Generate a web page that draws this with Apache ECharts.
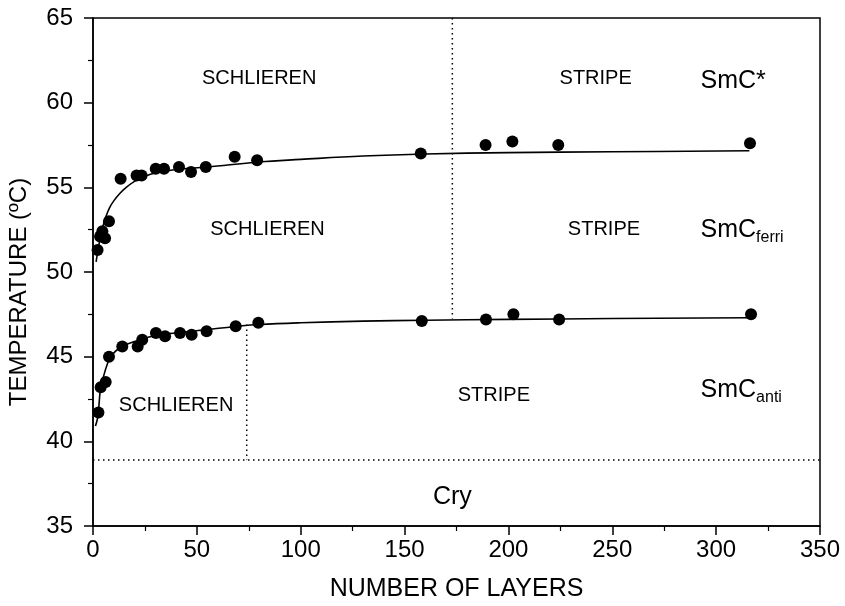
<!DOCTYPE html>
<html lang="en">
<head>
    <meta charset="UTF-8">
    <title>Temperature vs number of layers</title>
    <script src="https://cdn.jsdelivr.net/npm/echarts@6/dist/echarts.min.js"></script>
    <style>
        html, body { margin: 0; padding: 0; background: #fff; }
        #chart { width: 845px; height: 606px; }
    </style>
</head>
<body>
    <div id="chart"></div>
    <script>
        // upper transition (SmC* -> SmCferri), measured points
        var layersUpper = [2.2, 3.4, 4.5, 5.8, 7.7, 13.3, 21.0, 23.4, 30.2, 34.2, 41.4, 47.2, 54.3, 68.2, 79.0, 157.8, 189.0, 201.9, 224.0, 316.3];
        var tempUpper = [51.3, 52.1, 52.4, 52.0, 53.0, 55.5, 55.7, 55.7, 56.1, 56.1, 56.2, 55.9, 56.2, 56.8, 56.6, 57.0, 57.5, 57.7, 57.5, 57.6];

        // lower transition (SmCferri -> SmCanti), measured points
        var layersLower = [2.6, 3.7, 6.1, 7.7, 14.1, 21.5, 23.7, 30.3, 34.7, 41.9, 47.5, 54.7, 68.7, 79.6, 158.3, 189.2, 202.4, 224.4, 316.8];
        var tempLower = [41.7, 43.2, 43.5, 45.0, 45.6, 45.6, 46.0, 46.4, 46.2, 46.4, 46.3, 46.5, 46.8, 47.0, 47.1, 47.2, 47.5, 47.2, 47.5];

        // fitted curves
        var fitUpperX = [1.5, 2, 3, 4, 5, 6, 8, 10, 13, 16, 20, 25, 30, 40, 55, 80, 100, 130, 160, 200, 250, 316];
        var fitUpperY = [50.6, 51.0, 51.7, 52.3, 52.8, 53.2, 53.8, 54.2, 54.65, 55.0, 55.35, 55.65, 55.85, 56.05, 56.2, 56.5, 56.65, 56.85, 56.97, 57.05, 57.1, 57.16];
        var fitLowerX = [1.2, 2.4, 3.5, 5, 7, 9, 14, 20, 30, 40, 55, 70, 80, 100, 130, 160, 200, 250, 316];
        var fitLowerY = [40.9, 41.5, 43.0, 43.8, 44.6, 45.1, 45.6, 45.9, 46.25, 46.4, 46.6, 46.8, 46.9, 47.0, 47.1, 47.15, 47.2, 47.25, 47.3];

        // texture boundaries (dotted)
        var boundTopX = [173, 173];
        var boundTopY = [65, 47.25];
        var boundLowX = [74, 74];
        var boundLowY = [46.9, 38.9];
        var cryLineX = [0, 350];
        var cryLineY = [38.9, 38.9];

        // texture labels
        var textureX = [80, 242, 84, 246, 40, 193];
        var textureY = [61.4, 61.4, 52.5, 52.5, 42.1, 42.7];
        var textureText = ['SCHLIEREN', 'STRIPE', 'SCHLIEREN', 'STRIPE', 'SCHLIEREN', 'STRIPE'];

        // phase labels
        var phaseX = [292.5, 292.5, 292.5, 173];
        var phaseY = [61.3, 52.45, 43.0, 36.7];
        var phaseText = ['SmC*', 'SmC{sub|ferri}', 'SmC{sub|anti}', 'Cry'];

        var font = '"Liberation Sans", Arial, Helvetica, sans-serif';

        function zip(xs, ys) {
            return xs.map(function (x, i) { return [x, ys[i]]; });
        }

        var chart = echarts.init(document.getElementById('chart'), null, { renderer: 'canvas' });

        var dotted = {
            type: 'line',
            symbol: 'none',
            silent: true,
            lineStyle: { color: '#000', width: 1.5, type: [1.5, 3.5] }
        };

        var option = {
            backgroundColor: '#fff',
            animation: false,
            grid: {
                left: 93, right: 25, top: 18, bottom: 80,
                show: true,
                borderColor: '#000',
                borderWidth: 1.5,
                outerBoundsMode: 'none'
            },
            xAxis: {
                type: 'value',
                min: 0, max: 350, interval: 50,
                name: 'NUMBER OF LAYERS',
                nameLocation: 'middle',
                nameGap: 51,
                nameTextStyle: { fontFamily: font, fontSize: 25, color: '#000' },
                axisLine: { lineStyle: { color: '#000', width: 1.5 } },
                axisTick: { length: 9, lineStyle: { color: '#000', width: 1.5 } },
                minorTick: { show: true, splitNumber: 2, length: 5, lineStyle: { color: '#000', width: 1.2 } },
                splitLine: { show: false },
                axisLabel: { fontFamily: font, fontSize: 24, color: '#000', margin: 12 }
            },
            yAxis: {
                type: 'value',
                min: 35, max: 65, interval: 5,
                name: 'TEMPERATURE (\u00baC)',
                nameLocation: 'middle',
                nameGap: 62,
                nameTextStyle: { fontFamily: font, fontSize: 24, color: '#000', padding: [0, 40, 0, 0] },
                axisLine: { lineStyle: { color: '#000', width: 1.5 } },
                axisTick: { length: 9, lineStyle: { color: '#000', width: 1.5 } },
                minorTick: { show: true, splitNumber: 2, length: 5, lineStyle: { color: '#000', width: 1.2 } },
                splitLine: { show: false },
                axisLabel: { fontFamily: font, fontSize: 24, color: '#000', margin: 20 }
            },
            series: [
                Object.assign({}, dotted, { data: zip(boundTopX, boundTopY) }),
                Object.assign({}, dotted, { data: zip(boundLowX, boundLowY) }),
                Object.assign({}, dotted, { data: zip(cryLineX, cryLineY) }),
                {
                    type: 'line', symbol: 'none', smooth: 0.4,
                    lineStyle: { color: '#000', width: 1.6 },
                    data: zip(fitUpperX, fitUpperY)
                },
                {
                    type: 'line', symbol: 'none', smooth: 0.4,
                    lineStyle: { color: '#000', width: 1.6 },
                    data: zip(fitLowerX, fitLowerY)
                },
                {
                    type: 'scatter', symbol: 'circle', symbolSize: 12,
                    itemStyle: { color: '#000', opacity: 1 },
                    data: zip(layersUpper, tempUpper)
                },
                {
                    type: 'scatter', symbol: 'circle', symbolSize: 12,
                    itemStyle: { color: '#000', opacity: 1 },
                    data: zip(layersLower, tempLower)
                },
                {
                    type: 'scatter', symbolSize: 1, silent: true,
                    itemStyle: { color: 'rgba(0,0,0,0)', opacity: 1 },
                    label: {
                        show: true, position: 'inside',
                        fontFamily: font, fontSize: 20, color: '#000', opacity: 1,
                        formatter: function (p) { return p.value[2]; }
                    },
                    data: textureX.map(function (x, i) { return [x, textureY[i], textureText[i]]; })
                },
                {
                    type: 'scatter', symbolSize: 1, silent: true,
                    itemStyle: { color: 'rgba(0,0,0,0)', opacity: 1 },
                    label: {
                        show: true, position: 'inside',
                        fontFamily: font, fontSize: 25, color: '#000', opacity: 1,
                        formatter: function (p) { return p.value[2]; },
                        rich: {
                            sub: { fontFamily: font, fontSize: 16, color: '#000', padding: [14, 0, 0, 0] }
                        }
                    },
                    data: phaseX.map(function (x, i) {
                        var item = { value: [x, phaseY[i], phaseText[i]] };
                        if (phaseText[i] !== 'Cry') item.label = { align: 'left' };
                        return item;
                    })
                }
            ]
        };

        chart.setOption(option);
    </script>
</body>
</html>
